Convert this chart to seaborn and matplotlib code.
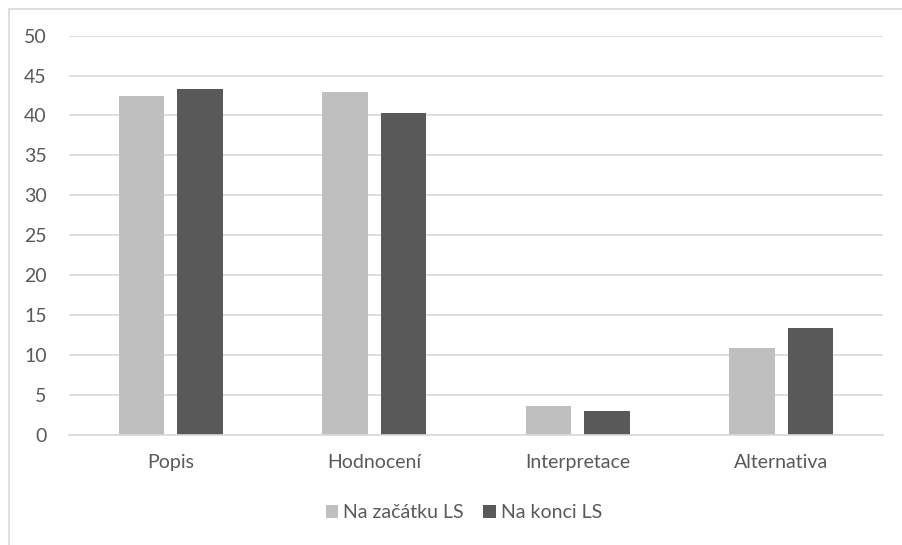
import matplotlib
matplotlib.use("Agg")
import matplotlib.pyplot as plt
import seaborn as sns
import pandas as pd
from matplotlib.lines import Line2D
from matplotlib.patches import Patch

categories = ["Popis", "Hodnocení", "Interpretace", "Alternativa"]
series_names = ["Na začátku LS", "Na konci LS"]
start_values = [42.4, 43.0, 3.6, 10.8]
end_values = [43.3, 40.3, 2.9, 13.3]
y_ticks = [0, 5, 10, 15, 20, 25, 30, 35, 40, 45, 50]
colors = ["#bfbfbf", "#595959"]

df = pd.DataFrame({
    "category": categories * 2,
    "series": [series_names[0]] * 4 + [series_names[1]] * 4,
    "value": start_values + end_values,
})

sns.set_theme(style="white")
plt.rcParams["font.family"] = ["Lato", "DejaVu Sans"]

fig = plt.figure(figsize=(9.03, 5.45), dpi=100)
ax = fig.add_axes([69/903, 1 - 434.5/545, (883-69)/903, (434.5-35.7)/545])

sns.barplot(data=df, x="category", y="value", hue="series", order=categories,
            hue_order=series_names, palette=colors, width=0.575, gap=0.214,
            saturation=1, ax=ax, legend=False, edgecolor="none", linewidth=0)

ax.set_ylim(0, 50)
ax.set_xlim(-0.5, 3.5)
ax.set_yticks(y_ticks)
ax.set_yticklabels([str(t) for t in y_ticks])
ax.yaxis.grid(True, color="#d9d9d9", linewidth=1.2)
ax.set_axisbelow(True)
for s in ["left", "right", "top"]:
    ax.spines[s].set_visible(False)
ax.spines["bottom"].set_color("#d9d9d9")
ax.spines["bottom"].set_linewidth(1.2)
ax.tick_params(axis="y", length=0, pad=16, labelsize=14, labelcolor="#595959")
ax.tick_params(axis="x", length=0, pad=14, labelsize=14, labelcolor="#595959")
ax.set_xlabel("")
ax.set_ylabel("")

handles = [Patch(facecolor=c, edgecolor="none") for c in colors]
fig.legend(handles, series_names, loc="center", bbox_to_anchor=(464/903, 1 - 513/545),
           ncol=2, frameon=False, fontsize=14, handlelength=0.65, handleheight=0.65,
           handletextpad=0.25, columnspacing=1.0, labelcolor="#595959")

# chart border (left and top visible)
fig.add_artist(Line2D([8.5/903, 8.5/903], [0, 1 - 9/545], transform=fig.transFigure,
                      color="#d9d9d9", linewidth=1.2))
fig.add_artist(Line2D([8.5/903, 1], [1 - 9/545, 1 - 9/545], transform=fig.transFigure,
                      color="#d9d9d9", linewidth=1.2))

fig.savefig("out.png", dpi=100, facecolor="white")
